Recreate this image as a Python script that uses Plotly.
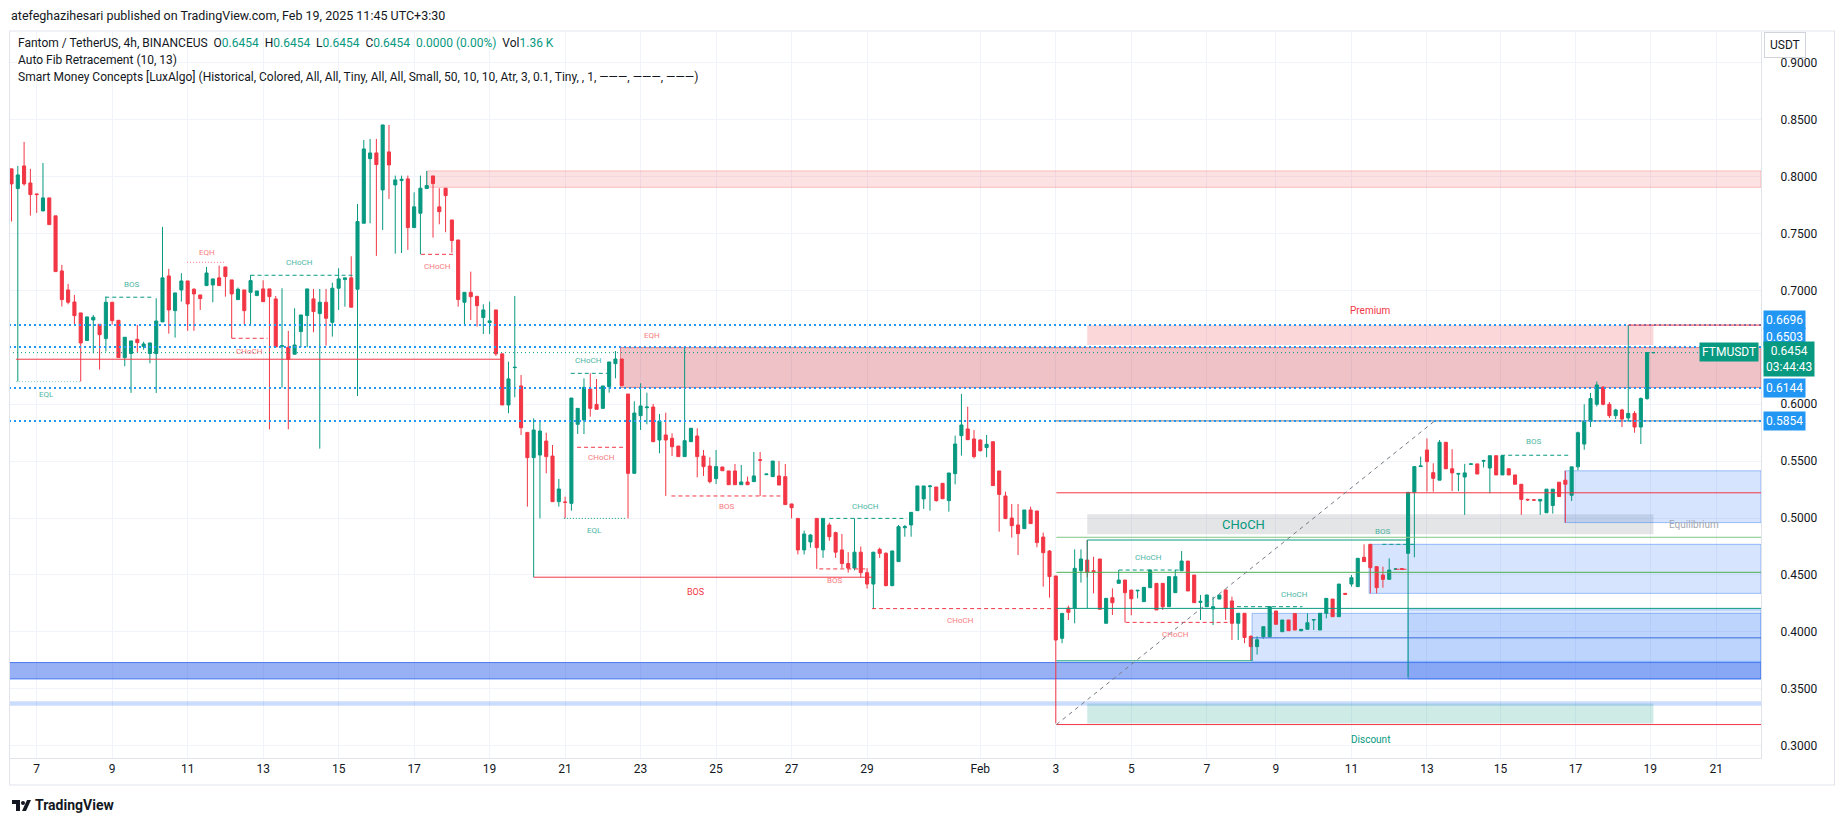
import plotly.graph_objects as go

W, H = 1835, 821
ML, MR, MT, MB = 9, 74, 32, 63
PW = W - ML - MR
PH = H - MT - MB

# ---------------- candle data (4h, index 0 = first visible bar) ----------------
opens = [
    .8069, .7896, .8095, .7945, .7849, .7699, .7814, .7656, .7172, .7005,
    .6899, .6803, .6560, .6741, .6703, .6577, .6897, .6738, .6410, .6446,
    .6571, .6507, .6446, .6446, .6724, .7128, .6823, .7005, .7084, .7011,
    .6961, .7043, .7049, .7111, .7207, .7093, .6920, .7005, .6984, .6955,
    .7014, .7014, .6926, .6510, .6501, .6440, .6639, .6780, .6926, .6797,
    .6897, .6720, .7020, .7096, .7111, .7011, .7591, .8159, .8209, .7884,
    .8218, .7928, .7966, .7981, .7553, .7679, .7896, .8007, .7735, .7899,
    .7620, .7444, .6897, .6984, .6949, .6762, .6718, .6829, .6443, .5994,
    .6322, .6161, .5753, .5531, .5554, .5677, .5545, .5144, .5141, .5129,
    .5824, .5862, .6134, .5999, .5964, .6155, .6357, .6398, .6090, .5393,
    .5900, .5970, .5976, .5686, .5730, .5701, .5633, .5540, .5671, .5721,
    .5545, .5457, .5346, .5449, .5414, .5414, .5293, .5317, .5320, .5513,
    .5381, .5364, .5370, .5364, .5124, .4997, .4720, .4790, .4997, .4720,
    .4939, .4872, .4720, .4600, .4560, .4700, .4520, .4420, .4725, .4690,
    .4406, .4617, .4915, .4939, .5065, .5168, .5276, .5273, .5305, .5153,
    .5390, .5724, .5783, .5695, .5686, .5619, .5671, .5414, .5194, .5000,
    .4939, .4907, .5071, .5062, .4833, .4710, .4491, .3943, .4209, .4206,
    .4537, .4631, .4537, .4640, .4075, .4300, .4426, .4455, .4367, .4360,
    .4265, .4388, .4426, .4426, .4221, .4344, .4537, .4622, .4499, .4259,
    .4221, .4201, .4288, .4368, .4271, .4075, .4163, .3960, .3870, .3957,
    .3957, .4183, .4001, .4104, .4160, .4010, .4022, .4104, .4016, .4163,
    .4288, .4133, .4338, .4420, .4397, .4655, .4769, .4573, .4499, .4461,
    .4552, .4555, .4690, .5226, .5452, .5598, .5399, .5333, .5666, .5433,
    .5386, .5361, .5472, .5476, .5500, .5440, .5548, .5379, .5433, .5379,
    .5297, .5164, .5160, .5150, .5046, .5110, .5315, .5333, .5200, .5450,
    .5650, .5850, .6000, .6150, .6000, .5900, .5950, .5880, .5920, .5800,
    .6050, .6454,
]
highs = [
    .8069, .8095, .8306, .8069, .7849, .8121, .7814, .7656, .7225, .7058,
    .6961, .6803, .6768, .6785, .6703, .6946, .6897, .6738, .6589, .6557,
    .6697, .6550, .6539, .6932, .7559, .7190, .6979, .7152, .7084, .7020,
    .6961, .7207, .7102, .7219, .7207, .7093, .7026, .7005, .7137, .6996,
    .7090, .7014, .6952, .7020, .6645, .6844, .6785, .7014, .7014, .7014,
    .7014, .7069, .7195, .7111, .7301, .7761, .8323, .8332, .8332, .8455,
    .8455, .8010, .8010, .8010, .7863, .8010, .8051, .8007, .7899, .7899,
    .7620, .7444, .6984, .7166, .6949, .6879, .6902, .6829, .6443, .6375,
    .6952, .6257, .5753, .5876, .5862, .5750, .5642, .5343, .5188, .6055,
    .5964, .6228, .6272, .6222, .6161, .6372, .6468, .6398, .6090, .6026,
    .6184, .6102, .6003, .5915, .5926, .5745, .5633, .6506, .5789, .5789,
    .5598, .5534, .5598, .5449, .5414, .5475, .5466, .5364, .5581, .5581,
    .5387, .5501, .5501, .5475, .5124, .5000, .4890, .4860, .4997, .4997,
    .4960, .4880, .4860, .4700, .4997, .4750, .4560, .4700, .4740, .4700,
    .4711, .4939, .4939, .5050, .5282, .5282, .5290, .5273, .5305, .5396,
    .5724, .6090, .5979, .5774, .5692, .5730, .5671, .5414, .5232, .5124,
    .5124, .5071, .5100, .5062, .4872, .4719, .4491, .4162, .4230, .4725,
    .4725, .4807, .4660, .4640, .4294, .4382, .4543, .4455, .4367, .4365,
    .4391, .4543, .4426, .4426, .4485, .4543, .4710, .4622, .4499, .4324,
    .4324, .4309, .4324, .4368, .4309, .4163, .4163, .3970, .3960, .4045,
    .4221, .4183, .4104, .4104, .4163, .4022, .4163, .4107, .4163, .4294,
    .4288, .4420, .4338, .4499, .4646, .4769, .4769, .4573, .4573, .4646,
    .4555, .4558, .5226, .5452, .5540, .5700, .5481, .5686, .5666, .5605,
    .5392, .5476, .5476, .5476, .5513, .5548, .5548, .5548, .5433, .5379,
    .5297, .5170, .5165, .5164, .5254, .5254, .5315, .5415, .5450, .5760,
    .6000, .6100, .6200, .6160, .6020, .5960, .5960, .6696, .5940, .6060,
    .6454, .6454,
]
lows = [
    .7606, .6200, .7922, .7658, .7682, .7699, .7579, .7166, .6859, .6879,
    .6703, .6200, .6560, .6448, .6305, .6463, .6700, .6410, .6334, .6100,
    .6454, .6480, .6360, .6100, .6724, .6621, .6586, .6902, .6645, .6645,
    .6829, .7043, .6897, .7043, .6946, .6580, .6920, .6703, .6703, .6955,
    .6902, .5780, .6504, .6147, .5780, .6440, .6501, .6501, .6633, .5610,
    .6516, .6595, .6829, .6858, .6853, .6073, .7591, .7591, .7304, .7532,
    .7805, .7324, .7330, .7357, .7553, .7318, .7896, .7465, .7582, .7512,
    .7333, .6858, .6689, .6741, .6683, .6618, .6618, .6425, .5994, .5921,
    .6061, .5730, .5100, .4480, .4997, .5393, .5144, .5100, .4997, .5065,
    .5739, .5739, .5891, .5956, .5964, .6102, .6228, .6164, .4997, .5393,
    .5774, .5824, .5671, .5569, .5194, .5545, .5540, .5540, .5671, .5358,
    .5370, .5305, .5299, .5416, .5293, .5293, .5293, .5293, .5320, .5194,
    .5381, .5364, .5290, .5118, .4997, .4680, .4680, .4740, .4553, .4650,
    .4800, .4650, .4560, .4520, .4540, .4480, .4380, .4200, .4650, .4400,
    .4400, .4617, .4836, .4836, .5065, .5080, .5065, .5144, .5170, .5056,
    .5296, .5548, .5689, .5525, .5585, .5534, .5285, .4880, .4995, .4828,
    .4675, .4907, .4951, .4743, .4397, .4300, .3195, .3900, .4104, .4075,
    .4432, .4479, .4338, .4198, .4075, .4148, .4426, .4083, .4145, .4294,
    .4265, .4388, .4192, .4192, .4221, .4344, .4537, .4359, .4256, .4104,
    .4221, .4060, .4288, .4104, .3928, .3928, .3900, .3750, .3800, .3940,
    .3950, .4066, .4001, .4010, .4016, .4005, .4022, .4016, .4016, .4119,
    .4133, .4133, .4330, .4397, .4397, .4617, .4338, .4338, .4388, .4461,
    .4548, .4548, .3600, .4655, .5452, .5232, .5232, .5333, .5433, .5236,
    .5236, .5028, .5472, .5387, .5444, .5218, .5379, .5379, .5379, .5297,
    .5028, .5150, .5150, .5028, .5046, .5039, .5189, .4960, .5150, .5420,
    .5600, .5800, .5980, .5990, .5880, .5870, .5800, .5850, .5750, .5650,
    .6040, .6454,
]
closes = [
    .7937, .8016, .7937, .7843, .7843, .7814, .7579, .7166, .6920, .6897,
    .6779, .6539, .6768, .6765, .6612, .6897, .6735, .6410, .6589, .6557,
    .6542, .6530, .6539, .6732, .7111, .6829, .6979, .7084, .6882, .6970,
    .6929, .7154, .7102, .7043, .7122, .6970, .7011, .6823, .7087, .6996,
    .6902, .6946, .6504, .6515, .6396, .6521, .6785, .7014, .6815, .6897,
    .6756, .7020, .7102, .7111, .6853, .7606, .8244, .8209, .8107, .8455,
    .8104, .7972, .7978, .7553, .7735, .7899, .7922, .7940, .7693, .7834,
    .7439, .6920, .6984, .6946, .6867, .6829, .6733, .6443, .5994, .6223,
    .6325, .5794, .5531, .5774, .5765, .5540, .5144, .5255, .5138, .6055,
    .5964, .6149, .5964, .5956, .6161, .6372, .6398, .6164, .5393, .5923,
    .5985, .5976, .5671, .5853, .5686, .5627, .5540, .5680, .5789, .5540,
    .5452, .5320, .5452, .5416, .5293, .5293, .5317, .5293, .5370, .5508,
    .5387, .5501, .5290, .5118, .5091, .4720, .4860, .4851, .4740, .4997,
    .4836, .4700, .4600, .4560, .4700, .4520, .4420, .4700, .4690, .4406,
    .4711, .4924, .4924, .5050, .5282, .5282, .5282, .5153, .5170, .5396,
    .5651, .5818, .5689, .5540, .5592, .5648, .5285, .5208, .4995, .4933,
    .4863, .5071, .4951, .4784, .4696, .4485, .3928, .4162, .4171, .4558,
    .4640, .4523, .4529, .4198, .4294, .4256, .4455, .4344, .4291, .4365,
    .4391, .4543, .4192, .4221, .4485, .4485, .4622, .4359, .4256, .4268,
    .4324, .4221, .4324, .4206, .4075, .4163, .3950, .3870, .3930, .4045,
    .4221, .4066, .4104, .4010, .4016, .4022, .4080, .4107, .4163, .4294,
    .4133, .4420, .4330, .4476, .4646, .4617, .4564, .4388, .4461, .4543,
    .4552, .4550, .5226, .5452, .5458, .5496, .5349, .5666, .5433, .5397,
    .5392, .5397, .5476, .5387, .5505, .5548, .5379, .5548, .5379, .5297,
    .5164, .5160, .5158, .5164, .5254, .5254, .5189, .5297, .5450, .5750,
    .5850, .6050, .6170, .6000, .5900, .5950, .5870, .5920, .5800, .6050,
    .6454, .6454,
]

# time axis labels and the bar index where each one sits
tick_labels = ["7", "9", "11", "13", "15", "17", "19", "21", "23", "25", "27", "29",
               "Feb", "3", "5", "7", "9", "11", "13", "15", "17", "19", "21"]
tick_bars = [4, 16, 28, 40, 52, 64, 76, 88, 100, 112, 124, 136,
             154, 166, 178, 190, 201, 213, 225, 236.7, 248.6, 260.5, 271]
price_ticks = [0.30, 0.35, 0.40, 0.45, 0.50, 0.55, 0.60, 0.70, 0.75, 0.80, 0.85, 0.90]

# fib / level values shown on the price scale
fib_levels = [0.6696, 0.6503, 0.6144, 0.5854]
last_price = 0.6454

# ---------------- figure ----------------
UP, DN = "#089981", "#F23645"
TEAL_L, RED_L = "#4db6a4", "#f77c80"
x_idx = list(range(len(closes)))
XR = [-0.4, 278.1]
YR = [0.2891, 0.9272]

fig = go.Figure(go.Candlestick(
    x=x_idx, open=opens, high=highs, low=lows, close=closes,
    increasing=dict(line=dict(color=UP, width=1), fillcolor=UP),
    decreasing=dict(line=dict(color=DN, width=1), fillcolor=DN),
    whiskerwidth=0, hoverinfo="skip", showlegend=False))

shapes, annos = [], []


def hl(x0, x1, y, color, dash="solid", width=1, layer="above"):
    shapes.append(dict(type="line", xref="x", yref="y", x0=x0, x1=x1, y0=y, y1=y,
                       line=dict(color=color, dash=dash, width=width), layer=layer))


def vl(x, y0, y1, color, dash="solid", width=1):
    shapes.append(dict(type="line", xref="x", yref="y", x0=x, x1=x, y0=y0, y1=y1,
                       line=dict(color=color, dash=dash, width=width), layer="above"))


def rect(x0, x1, y0, y1, fill, line=None, layer="between"):
    shapes.append(dict(type="rect", xref="x", yref="y", x0=x0, x1=x1, y0=y0, y1=y1,
                       fillcolor=fill, line=dict(width=1 if line else 0, color=line or fill),
                       layer=layer))


def txt(x, y, s, color, size=8):
    annos.append(dict(x=x, y=y, xref="x", yref="y", text=s, showarrow=False,
                      font=dict(size=size, color=color, family="Roboto"),
                      xanchor="center", yanchor="middle"))


XE = XR[1]
# --- zones / order blocks ---
rect(66.1, XE, 0.7907, 0.8051, "rgba(247,124,128,0.22)", "rgba(247,124,128,0.45)")
rect(96.8, XE, 0.6148, 0.6498, "rgba(214,110,118,0.42)", "rgba(220,90,100,0.7)")
rect(171, 261, 0.6521, 0.6696, "rgba(242,54,69,0.2)")
rect(171, 261, 0.4858, 0.5033, "rgba(120,123,134,0.2)")
rect(171, 261, 0.3195, 0.3370, "rgba(8,153,129,0.2)")
rect(-0.4, XE, 0.3586, 0.3730, "rgba(49,100,235,0.5)", "rgba(49,100,235,0.8)")
rect(-0.4, XE, 0.3350, 0.3390, "rgba(49,121,245,0.25)")
rect(246.9, XE, 0.4960, 0.5415, "rgba(49,121,245,0.2)", "rgba(49,121,245,0.45)")
rect(215.8, XE, 0.4338, 0.4769, "rgba(49,121,245,0.2)", "rgba(49,121,245,0.45)")
rect(197.2, XE, 0.3740, 0.4162, "rgba(49,121,245,0.2)", "rgba(49,121,245,0.45)")
rect(222, XE, 0.3586, 0.4193, "rgba(49,121,245,0.15)", "rgba(49,121,245,0.45)")

# --- full-width fib / price lines ---
for lv in fib_levels:
    hl(-0.4, XE, lv, "#2196f3", "2px,3px", 2)
hl(165.8, XE, 0.5854, "#787b86", "solid", 1, "between")
hl(-0.4, XE, last_price, UP, "1px,3px", 1)
hl(257, XE, 0.6696, DN, "solid", 1)

# --- left structure ---
hl(0.7, 78.0, 0.6396, DN, "solid", 1)
hl(0.7, 11.0, 0.6199, "#7fcfc0", "1px,2px", 1)
txt(5.6, 0.6086, "EQL", TEAL_L)
hl(14.9, 22.7, 0.6941, UP, "4px,3px", 1)
txt(19, 0.7055, "BOS", TEAL_L)
hl(27.9, 34.1, 0.7248, RED_L, "1px,2px", 1)
txt(31, 0.7330, "EQH", RED_L)
hl(35.0, 40.7, 0.6580, DN, "4px,3px", 1)
txt(37.8, 0.6467, "CHoCH", RED_L)
hl(38.0, 54.3, 0.7134, UP, "4px,3px", 1)
txt(45.8, 0.7249, "CHoCH", TEAL_L)
hl(65.1, 70.7, 0.7318, DN, "4px,3px", 1)
txt(67.7, 0.7208, "CHoCH", RED_L)
hl(87.8, 97.7, 0.4997, UP, "1px,2px", 1)
txt(92.7, 0.4893, "EQL", TEAL_L)
hl(88.9, 94.9, 0.6272, UP, "4px,3px", 1)
txt(91.7, 0.6385, "CHoCH", TEAL_L)
hl(89.9, 97.3, 0.5622, DN, "4px,3px", 1)
txt(93.8, 0.5531, "CHoCH", RED_L)
txt(101.8, 0.6601, "EQH", RED_L)
hl(104.9, 122.8, 0.5194, DN, "4px,3px", 1)
txt(113.7, 0.5099, "BOS", RED_L)
hl(83.0, 136.8, 0.4480, DN, "solid", 1)
txt(108.8, 0.4348, "BOS", DN, 9)
hl(128.4, 136.2, 0.4553, DN, "4px,3px", 1)
txt(130.8, 0.4451, "BOS", RED_L)
hl(130.0, 142.3, 0.4997, UP, "4px,3px", 1)
txt(135.8, 0.5099, "CHoCH", TEAL_L)
hl(136.8, 166.1, 0.4204, DN, "4px,3px", 1)
txt(150.9, 0.4100, "CHoCH", RED_L)

# --- right structure ---
hl(166.1, XE, 0.5222, DN, "solid", 1)
hl(166.1, XE, 0.4831, "#81c784", "solid", 1)
hl(171.0, 222.0, 0.4807, UP, "solid", 1)
vl(171.0, 0.4206, 0.4807, UP)
hl(166.1, XE, 0.4523, "#4caf50", "solid", 1)
hl(166.1, XE, 0.4206, UP, "solid", 1)
hl(197.2, XE, 0.3947, "#3a6fd8", "solid", 1)
hl(166.1, 197.2, 0.3745, UP, "solid", 1)
vl(197.2, 0.3745, 0.3947, UP)
hl(166.1, XE, 0.3185, DN, "solid", 1)
hl(176.0, 185.7, 0.4543, UP, "4px,3px", 1)
txt(180.8, 0.4656, "CHoCH", TEAL_L)
hl(177.1, 193.3, 0.4083, DN, "4px,3px", 1)
txt(185.0, 0.3977, "CHoCH", RED_L)
hl(194.8, 205.2, 0.4221, UP, "4px,3px", 1)
txt(203.9, 0.4327, "CHoCH", TEAL_L)
hl(217.9, 222.9, 0.4769, UP, "4px,3px", 1)
txt(218.0, 0.4883, "BOS", TEAL_L)
hl(220.0, 222.0, 0.4550, DN, "4px,3px", 1)
hl(236.8, 247.6, 0.5552, UP, "4px,3px", 1)
txt(242.0, 0.5670, "BOS", TEAL_L)
shapes.append(dict(type="line", xref="x", yref="y", x0=166.1, y0=0.3185, x1=226.6, y1=0.5870,
                   line=dict(color="#787b86", dash="4px,4px", width=1), layer="above"))
txt(195.8, 0.4946, "CHoCH", UP, 13)
txt(216, 0.6827, "Premium", DN, 10)
txt(216, 0.3058, "Discount", UP, 10)
txt(267.5, 0.4946, "Equilibrium", "#a3a6af", 10)


# --- price-scale labels ---
def py(ry):
    return (MT + PH - ry) / PH


def px(rx):
    return (rx - ML) / PW


def plabel(s, ry, bg, rx=1763, anchor="left", size=12):
    annos.append(dict(xref="paper", yref="paper", x=px(rx), y=py(ry), text=s, showarrow=False,
                      xanchor=anchor, yanchor="middle", bgcolor=bg, borderpad=2,
                      font=dict(size=size, color="white", family="Roboto")))


plabel(f"{fib_levels[0]:.4f}", 319.5, "#2196f3")
plabel(f"{fib_levels[1]:.4f}", 337, "#2196f3")
plabel(f"{last_price:.4f}<br>03:44:43", 359, UP)
plabel("FTMUSDT", 352, UP, rx=1759, anchor="right")
plabel(f"{fib_levels[2]:.4f}", 387.5, "#2196f3")
plabel(f"{fib_levels[3]:.4f}", 421, "#2196f3")
annos.append(dict(xref="paper", yref="paper", x=px(1764), y=py(45), text="USDT", showarrow=False,
                  xanchor="left", yanchor="middle", bgcolor="white", bordercolor="#d1d4dc",
                  borderwidth=1, borderpad=5, font=dict(size=12, color="#131722", family="Roboto")))

# --- header / legend text ---
G = UP
annos.append(dict(xref="paper", yref="paper", x=px(9), y=py(15), xanchor="left", yanchor="middle",
                  showarrow=False, font=dict(size=12.5, color="#131722", family="Roboto"),
                  text="atefeghazihesari published on TradingView.com, Feb 19, 2025 11:45 UTC+3:30"))
leg1 = ("Fantom / TetherUS, 4h, BINANCEUS  "
        f"O<span style='color:{G}'>0.6454</span>  H<span style='color:{G}'>0.6454</span>  "
        f"L<span style='color:{G}'>0.6454</span>  C<span style='color:{G}'>0.6454</span>  "
        f"<span style='color:{G}'>0.0000 (0.00%)</span>  Vol<span style='color:{G}'>1.36 K</span>")
DASH = "———"
for s, ry in [(leg1, 43), ("Auto Fib Retracement (10, 13)", 60),
              ("Smart Money Concepts [LuxAlgo] (Historical, Colored, All, All, Tiny, All, All, Small, "
               f"50, 10, 10, Atr, 3, 0.1, Tiny, , 1, {DASH}, {DASH}, {DASH})", 77)]:
    annos.append(dict(xref="paper", yref="paper", x=px(16), y=py(ry), xanchor="left", yanchor="middle",
                      showarrow=False, font=dict(size=12, color="#131722", family="Roboto"), text=s))

# --- TradingView logo ---
annos.append(dict(xref="paper", yref="paper", x=px(33), y=py(805), xanchor="left", yanchor="middle",
                  showarrow=False, text="<b>TradingView</b>",
                  font=dict(size=14, color="#131722", family="Roboto")))
shapes.append(dict(type="rect", xref="paper", yref="paper", x0=px(12), x1=px(20), y0=py(804), y1=py(800),
                   fillcolor="#131722", line=dict(width=0)))
shapes.append(dict(type="rect", xref="paper", yref="paper", x0=px(16), x1=px(20), y0=py(811), y1=py(800),
                   fillcolor="#131722", line=dict(width=0)))
shapes.append(dict(type="circle", xref="paper", yref="paper", x0=px(21), x1=px(25), y0=py(805), y1=py(801),
                   fillcolor="#131722", line=dict(width=0)))
shapes.append(dict(type="path", xref="paper", yref="paper",
                   path=f"M {px(22)},{py(811)} L {px(27)},{py(800)} L {px(31)},{py(800)} L {px(26)},{py(811)} Z",
                   fillcolor="#131722", line=dict(width=0)))

# --- frame ---
shapes.append(dict(type="rect", xref="paper", yref="paper", x0=px(9.5), x1=px(1834.5), y0=py(785), y1=py(31),
                   fillcolor="rgba(0,0,0,0)", line=dict(color="#e0e3eb", width=1), layer="above"))

fig.update_layout(
    width=W, height=H, margin=dict(l=ML, r=MR, t=MT, b=MB),
    paper_bgcolor="white", plot_bgcolor="white",
    shapes=shapes, annotations=annos, showlegend=False,
    font=dict(family="Roboto", color="#131722"),
    xaxis=dict(range=XR, rangeslider=dict(visible=False), showgrid=True, gridcolor="#f0f3fa",
               tickvals=tick_bars, ticktext=tick_labels,
               tickfont=dict(size=12, color="#131722"), ticks="", showline=True,
               linecolor="#e0e3eb", zeroline=False, fixedrange=True),
    yaxis=dict(range=YR, side="right", showgrid=True, gridcolor="#f0f3fa",
               tickvals=price_ticks, ticktext=[f"{v:.4f}" for v in price_ticks],
               tickfont=dict(size=12, color="#131722"), ticks="", showline=True,
               linecolor="#e0e3eb", zeroline=False, ticklabelstandoff=16, fixedrange=True),
)

fig.write_html("out.html", config={"displayModeBar": False},
               post_script="document.body.style.margin='0';document.body.style.overflow='hidden';")
